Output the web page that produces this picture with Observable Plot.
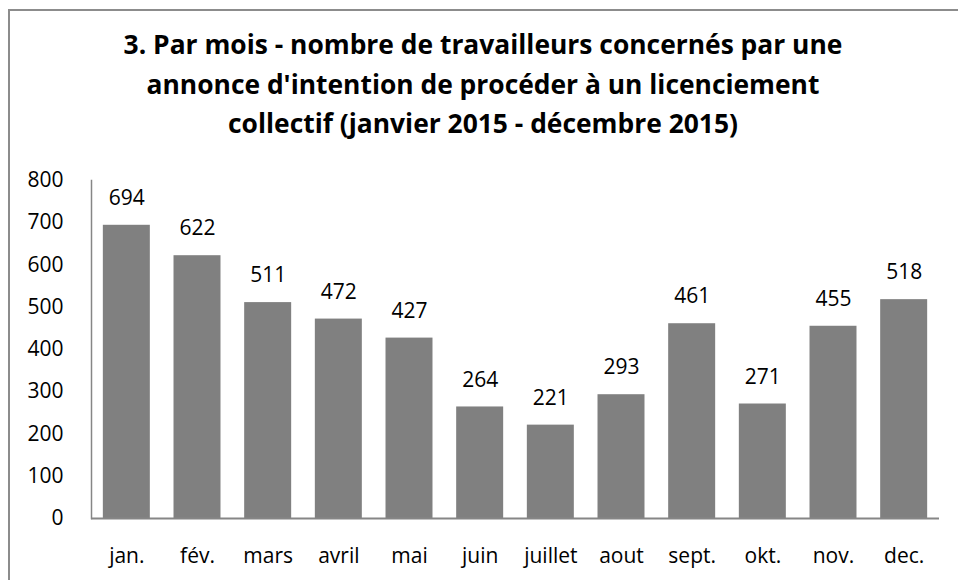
<!DOCTYPE html>
<html>
<head>
<meta charset="utf-8">
<script src="https://cdn.jsdelivr.net/npm/d3@7"></script>
<script src="https://cdn.jsdelivr.net/npm/@observablehq/plot@0.6"></script>
<style>
  html, body { margin: 0; padding: 0; background: #fff; }
  #wrap { position: relative; width: 958px; height: 580px; overflow: hidden; background: #fff; }
  #border { position: absolute; left: 8px; top: 9px; width: 1000px; height: 700px;
            border-top: 2px solid #8c8c8c; border-left: 2px solid #8c8c8c; }
  #title { position: absolute; left: 8px; width: 950px; top: 25px; text-align: center;
           font-family: "Open Sans", Lato, sans-serif; font-weight: bold; font-size: 26.4px;
           line-height: 39.5px; color: #000; }
  #chart { position: absolute; left: 0; top: 150px; }
</style>
</head>
<body>
<div id="wrap">
  <div id="border"></div>
  <div id="title"></div>
  <div id="chart"></div>
</div>
<script>
const titleLines = [
  "3. Par mois - nombre de travailleurs concernés par une",
  "annonce d'intention de procéder à un licenciement",
  "collectif (janvier 2015 - décembre 2015)"
];
const months = ["jan.", "fév.", "mars", "avril", "mai", "juin", "juillet", "aout", "sept.", "okt.", "nov.", "dec."];
const values = [694, 622, 511, 472, 427, 264, 221, 293, 461, 271, 455, 518];
const yTicks = [0, 100, 200, 300, 400, 500, 600, 700, 800];

document.getElementById("title").innerHTML = titleLines.join("<br>");

const data = months.map((m, i) => ({month: m, value: values[i]}));
const font = "'Open Sans', Lato, sans-serif";

const chart = Plot.plot({
  width: 958,
  height: 430,
  marginLeft: 91,
  marginRight: 19,
  marginTop: 30,
  marginBottom: 62,
  style: {fontFamily: font, fontSize: "21px", color: "#000", background: "transparent", overflow: "visible"},
  x: {domain: months, paddingInner: 0.335, paddingOuter: 0.1675, round: false, label: null},
  y: {domain: [0, 800], label: null},
  marks: [
    Plot.barY(data, {x: "month", y: "value", fill: "#808080"}),
    Plot.frame({anchor: "left", stroke: "#868686", strokeWidth: 1.5}),
    Plot.ruleY([0], {stroke: "#868686", strokeWidth: 2}),
    Plot.text(data, {x: "month", y: "value", text: d => String(d.value), dy: -27, lineAnchor: "middle", fill: "#000", fontSize: 21}),
    Plot.axisX({tickSize: 0, tickPadding: 30, label: null, fontSize: 21, fill: "#000"}),
    Plot.axisY({ticks: yTicks, tickSize: 0, tickPadding: 28, label: null, fontSize: 21, fill: "#000"})
  ]
});
document.getElementById("chart").appendChild(chart);
</script>
</body>
</html>
